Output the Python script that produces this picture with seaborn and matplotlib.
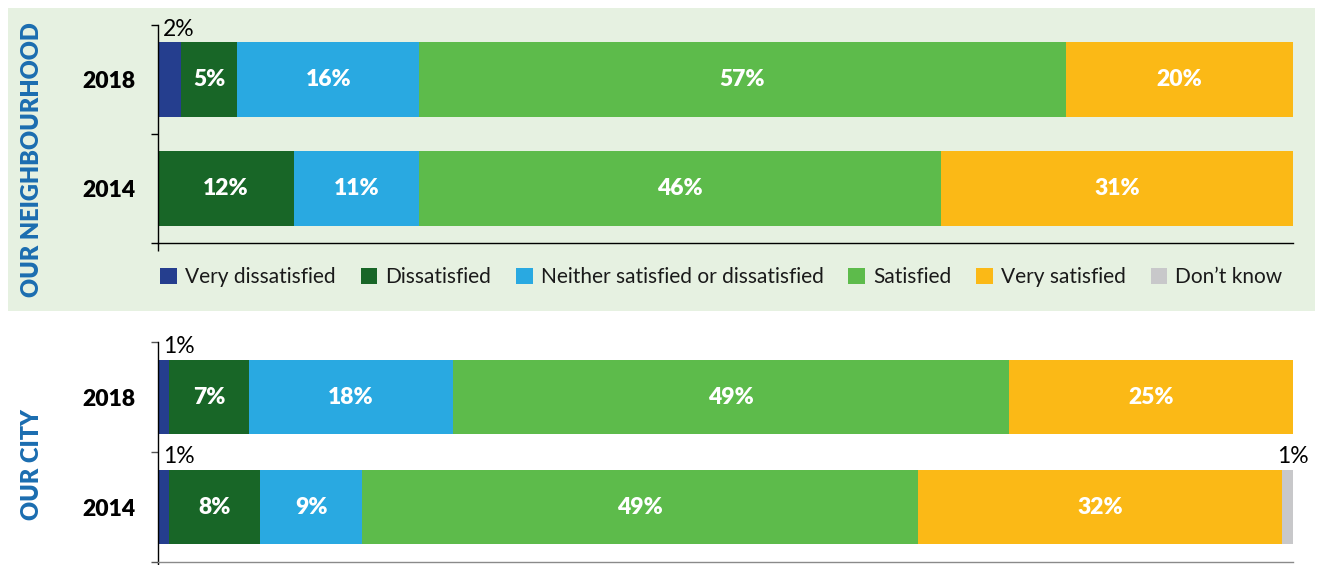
import matplotlib
matplotlib.use("Agg")
import matplotlib.pyplot as plt
import seaborn as sns
import pandas as pd
import numpy as np
from matplotlib.patches import Rectangle, Patch

sns.set_theme(style="white")
plt.rcParams['font.family'] = ['Lato', 'DejaVu Sans']

# ---- data ----
years = ["2018", "2014"]
categories = ["Very dissatisfied", "Dissatisfied", "Neither satisfied or dissatisfied",
              "Satisfied", "Very satisfied", "Don\u2019t know"]
neighbourhood = {
    "2018": [2, 5, 16, 57, 20, 0],
    "2014": [0, 12, 11, 46, 31, 0],
}
city = {
    "2018": [1, 7, 18, 49, 25, 0],
    "2014": [1, 8, 9, 49, 32, 1],
}
panel_titles = ["OUR NEIGHBOURHOOD", "OUR CITY"]

colors = ["#253E8E", "#186627", "#29A9E1", "#5DBB4B", "#FBB916", "#C8C8CA"]
bg_green = "#E6F1E1"
title_blue = "#1B6DB0"

fig = plt.figure(figsize=(13.18, 5.65), dpi=100)
W, H = 1318, 565
bg = Rectangle((8 / W, 1 - 311 / H), (1315 - 8) / W, (311 - 8) / H,
               transform=fig.transFigure, facecolor=bg_green, edgecolor="none", zorder=-5)
fig.add_artist(bg)

ax_top = fig.add_axes([158 / W, 1 - 243 / H, (1293 - 158) / W, 218 / H])
ax_bot = fig.add_axes([158 / W, 1 - 562 / H, (1293 - 158) / W, 220 / H])


def draw_panel(ax, data, spine_color, tick_color):
    df = pd.DataFrame(data, index=categories).T.loc[years]
    cum = df.cumsum(axis=1)
    # draw cumulative bars from largest to smallest (stacked effect)
    for i in range(len(categories) - 1, -1, -1):
        sub = pd.DataFrame({"year": years, "value": cum.iloc[:, i].values})
        sns.barplot(data=sub, x="value", y="year", orient="h", color=colors[i],
                    width=0.68, saturation=1, ax=ax, linewidth=0, zorder=2)
    ax.set_facecolor("none")
    ax.set_xlim(0, 100)
    ax.set_ylim(1.5, -0.5)
    ax.set_xlabel("")
    ax.set_ylabel("")
    # labels
    for yi, yr in enumerate(years):
        vals = df.loc[yr].values
        lefts = np.concatenate([[0], np.cumsum(vals)[:-1]])
        for j, v in enumerate(vals):
            if v == 0:
                continue
            if v >= 5:
                ax.text(lefts[j] + v / 2, yi, f"{v}%", ha="center", va="center",
                        color="white", fontsize=16.5, fontweight="heavy", zorder=5)
            else:
                if j == 0:
                    ax.text(lefts[j] + 0.45, yi - 0.36, f"{v}%", ha="left", va="bottom",
                            color="black", fontsize=16.5, zorder=5, clip_on=False)
                else:
                    ax.text(lefts[j] + v, yi - 0.36, f"{v}%", ha="center", va="bottom",
                            color="black", fontsize=16.5, zorder=5, clip_on=False)
    for s in ["top", "right"]:
        ax.spines[s].set_visible(False)
    ax.spines["left"].set_color("black")
    ax.spines["left"].set_linewidth(1.0)
    ax.spines["bottom"].set_color(spine_color)
    ax.spines["bottom"].set_linewidth(1.0)
    ax.set_yticks([0, 1])
    ax.set_yticklabels(years, fontsize=16.5, fontweight="heavy", color="black")
    ax.tick_params(axis="y", which="major", length=0, pad=16)
    ax.set_yticks([-0.5, 0.5, 1.5], minor=True)
    ax.tick_params(axis="y", which="minor", length=5, width=1.0, color=tick_color,
                   direction="out", left=True)
    ax.set_xticks([0])
    ax.set_xticklabels([""])
    ax.tick_params(axis="x", length=6, width=1.0, color="black", direction="out",
                   bottom=True)


draw_panel(ax_top, neighbourhood, "black", "black")
draw_panel(ax_bot, city, "#8A8A8A", "#555555")

fig.text(32 / W, 1 - 160 / H, panel_titles[0], rotation=90, ha="center", va="center",
         color=title_blue, fontsize=17, fontweight="heavy")
fig.text(32 / W, 1 - 465 / H, panel_titles[1], rotation=90, ha="center", va="center",
         color=title_blue, fontsize=17, fontweight="heavy")

handles = [Patch(facecolor=c, edgecolor="none") for c in colors]
leg = fig.legend(handles, categories, loc="center left", bbox_to_anchor=(152 / W, 1 - 277 / H),
                 ncol=6, frameon=False, fontsize=15, handlelength=0.8, handleheight=0.8,
                 handletextpad=0.38, columnspacing=1.2, borderaxespad=0)
for t in leg.get_texts():
    t.set_color("#1A1A1A")

fig.savefig("out.png", dpi=100)
